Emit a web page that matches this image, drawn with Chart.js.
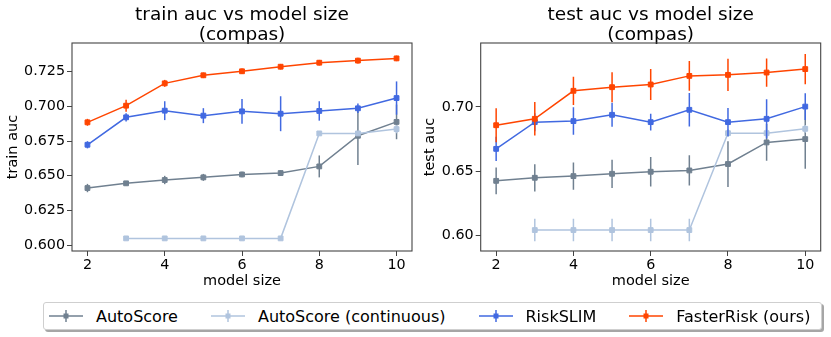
<!DOCTYPE html>
<html>
<head>
<meta charset="utf-8">
<script src="https://cdn.jsdelivr.net/npm/chart.js@4.4.1/dist/chart.umd.min.js"></script>
<style>
  html, body { margin: 0; padding: 0; background: #fff; }
  body { width: 831px; height: 337px; position: relative; overflow: hidden; font-family: 'DejaVu Sans', sans-serif; }
  .box { position: absolute; top: 0; height: 295px; }
  #legend {
    position: absolute; left: 43px; top: 302px; width: 779px; height: 28px;
    border: 1px solid #cfcfcf; border-radius: 3px; background: #fff;
    box-shadow: 2px 2px 0 rgba(0,0,0,0.35);
    display: flex; align-items: center; box-sizing: border-box; padding-left: 5px;
    font-size: 16px; color: #000; white-space: nowrap;
  }
  .item { display: flex; align-items: center; margin-right: 33px; }
  .item canvas { margin-right: 13px; }
</style>
</head>
<body>
<div class="box" style="left:0;width:420px;"><canvas id="c1" width="420" height="295"></canvas></div>
<div class="box" style="left:412px;width:419px;"><canvas id="c2" width="419" height="295"></canvas></div>
<div id="legend"></div>
<script>
// ---------------- data ----------------
const modelSizes = [2, 3, 4, 5, 6, 7, 8, 9, 10];
const seriesNames = ['AutoScore', 'AutoScore (continuous)', 'RiskSLIM', 'FasterRisk (ours)'];
const seriesColors = ['#708090', '#B0C4DE', '#4169E1', '#FF4500'];

// train AUC
const trainAutoScore      = [0.6411, 0.6445, 0.6469, 0.6488, 0.6509, 0.6519, 0.6567, 0.6788, 0.6888];
const trainAutoScoreErr   = [0.0030, 0.0015, 0.0030, 0.0025, 0.0020, 0.0020, 0.0079, 0.0210, 0.0125];
const trainAutoScoreCont    = [null, 0.6048, 0.6048, 0.6048, 0.6048, 0.6048, 0.6805, 0.6805, 0.6836];
const trainAutoScoreContErr = [null, 0.0010, 0.0010, 0.0010, 0.0010, 0.0010, 0.0010, 0.0010, 0.0030];
const trainRiskSLIM       = [0.6723, 0.6921, 0.6969, 0.6933, 0.6964, 0.6947, 0.6967, 0.6986, 0.7060];
const trainRiskSLIMErr    = [0.0026, 0.0030, 0.0068, 0.0054, 0.0090, 0.0126, 0.0070, 0.0034, 0.0120];
const trainFasterRisk     = [0.6885, 0.7005, 0.7166, 0.7224, 0.7253, 0.7286, 0.7315, 0.7330, 0.7346];
const trainFasterRiskErr  = [0.0025, 0.0043, 0.0025, 0.0020, 0.0020, 0.0020, 0.0020, 0.0020, 0.0020];

// test AUC
const testAutoScore      = [0.6424, 0.6448, 0.6461, 0.6479, 0.6495, 0.6505, 0.6555, 0.6723, 0.6749];
const testAutoScoreErr   = [0.0104, 0.0106, 0.0106, 0.0110, 0.0114, 0.0118, 0.0178, 0.0143, 0.0230];
const testAutoScoreCont    = [null, 0.6041, 0.6041, 0.6041, 0.6041, 0.6041, 0.6795, 0.6795, 0.6829];
const testAutoScoreContErr = [null, 0.0088, 0.0088, 0.0088, 0.0088, 0.0088, 0.0030, 0.0030, 0.0030];
const testRiskSLIM       = [0.6673, 0.6881, 0.6889, 0.6938, 0.6881, 0.6977, 0.6881, 0.6907, 0.7002];
const testRiskSLIMErr    = [0.0095, 0.0070, 0.0107, 0.0093, 0.0065, 0.0130, 0.0110, 0.0153, 0.0104];
const testFasterRisk     = [0.6857, 0.6907, 0.7125, 0.7153, 0.7174, 0.7241, 0.7249, 0.7267, 0.7294];
const testFasterRiskErr  = [0.0133, 0.0130, 0.0110, 0.0117, 0.0120, 0.0115, 0.0125, 0.0110, 0.0118];

// ticks
const xTicks = [2, 4, 6, 8, 10];
const trainYTicks = [0.600, 0.625, 0.650, 0.675, 0.700, 0.725];
const testYTicks = [0.60, 0.65, 0.70];

// ---------------- rendering ----------------
Chart.defaults.font.family = "'DejaVu Sans', sans-serif";
Chart.defaults.color = '#000';

const errorBarPlugin = {
  id: 'errorBars',
  beforeDatasetDraw(chart, args) {
    const ds = chart.data.datasets[args.index];
    if (!ds.errors) return;
    const xs = chart.scales.x, ys = chart.scales.y, ctx = chart.ctx, a = chart.chartArea;
    ctx.save();
    ctx.beginPath();
    ctx.rect(a.left, a.top, a.right - a.left, a.bottom - a.top);
    ctx.clip();
    ctx.strokeStyle = ds.borderColor;
    ctx.lineWidth = 1.5;
    ds.data.forEach((p, i) => {
      if (p.y == null || ds.errors[i] == null) return;
      const px = xs.getPixelForValue(p.x);
      ctx.beginPath();
      ctx.moveTo(px, ys.getPixelForValue(p.y - ds.errors[i]));
      ctx.lineTo(px, ys.getPixelForValue(p.y + ds.errors[i]));
      ctx.stroke();
    });
    ctx.restore();
  }
};

const framePlugin = {
  id: 'frame',
  afterDatasetsDraw(chart) {
    const a = chart.chartArea, ctx = chart.ctx;
    ctx.save();
    ctx.strokeStyle = '#444';
    ctx.lineWidth = 1.1;
    ctx.strokeRect(a.left, a.top, a.right - a.left, a.bottom - a.top);
    ctx.restore();
  }
};

function mkDataset(i, vals, errs) {
  return {
    label: seriesNames[i],
    data: modelSizes.map((x, k) => ({ x: x, y: vals[k] })),
    errors: errs,
    borderColor: seriesColors[i],
    backgroundColor: seriesColors[i],
    pointBackgroundColor: seriesColors[i],
    pointBorderColor: seriesColors[i],
    borderWidth: 1.5,
    pointStyle: 'rect',
    pointRadius: 3.4,
    pointBorderWidth: 1,
    order: 3 - i,
    spanGaps: false
  };
}

function makeChart(id, title, yLabel, yMin, yMax, yTicks, decimals, yWidth, yTitlePad, padRight, sets) {
  return new Chart(document.getElementById(id), {
    type: 'line',
    data: { datasets: sets },
    plugins: [errorBarPlugin, framePlugin],
    options: {
      responsive: false,
      animation: false,
      devicePixelRatio: 1,
      layout: { padding: { left: 0, right: padRight, top: 0, bottom: 0 } },
      plugins: {
        legend: { display: false },
        tooltip: { enabled: false },
        title: {
          display: true,
          text: title,
          fullSize: false,
          font: { size: 18.5, weight: 'normal', lineHeight: 1.1 },
          color: '#000',
          padding: { top: 5, bottom: -2.7 }
        }
      },
      scales: {
        x: {
          type: 'linear',
          min: 1.6, max: 10.4,
          afterBuildTicks: s => { s.ticks = xTicks.map(v => ({ value: v })); },
          afterFit: s => { s.height = 44; },
          ticks: { font: { size: 14.3 }, padding: 1, color: '#000', maxRotation: 0 },
          grid: { drawOnChartArea: false, drawTicks: true, tickLength: 5, tickColor: '#444', tickWidth: 1 },
          border: { display: false },
          title: { display: true, text: 'model size', font: { size: 14.5 }, color: '#000', padding: { top: 0, bottom: 5 } }
        },
        y: {
          type: 'linear',
          min: yMin, max: yMax,
          afterBuildTicks: s => { s.ticks = yTicks.map(v => ({ value: v })); },
          afterFit: s => { s.width = yWidth; },
          ticks: { font: { size: 14.3 }, padding: 2, color: '#000', callback: v => Number(v).toFixed(decimals) },
          grid: { drawOnChartArea: false, drawTicks: true, tickLength: 5, tickColor: '#444', tickWidth: 1 },
          border: { display: false },
          title: { display: true, text: yLabel, font: { size: 14.5 }, color: '#000', padding: { top: yTitlePad, bottom: 0 } }
        }
      }
    }
  });
}

makeChart('c1', ['train auc vs model size', '(compas)'], 'train auc', 0.5957, 0.7457, trainYTicks, 3, 72, 5, 8, [
  mkDataset(0, trainAutoScore, trainAutoScoreErr),
  mkDataset(1, trainAutoScoreCont, trainAutoScoreContErr),
  mkDataset(2, trainRiskSLIM, trainRiskSLIMErr),
  mkDataset(3, trainFasterRisk, trainFasterRiskErr)
]);

makeChart('c2', ['test auc vs model size', '(compas)'], 'test auc', 0.5878, 0.7497, testYTicks, 2, 68.7, 10, 10.3, [
  mkDataset(0, testAutoScore, testAutoScoreErr),
  mkDataset(1, testAutoScoreCont, testAutoScoreContErr),
  mkDataset(2, testRiskSLIM, testRiskSLIMErr),
  mkDataset(3, testFasterRisk, testFasterRiskErr)
]);

// legend
const legend = document.getElementById('legend');
seriesNames.forEach((name, i) => {
  const item = document.createElement('div');
  item.className = 'item';
  const cv = document.createElement('canvas');
  cv.width = 34; cv.height = 20;
  const g = cv.getContext('2d');
  g.strokeStyle = seriesColors[i]; g.fillStyle = seriesColors[i]; g.lineWidth = 1.5;
  g.beginPath(); g.moveTo(0, 10); g.lineTo(34, 10); g.stroke();
  g.beginPath(); g.moveTo(17, 4); g.lineTo(17, 16); g.stroke();
  g.fillRect(14.5, 7.5, 5, 5);
  const sp = document.createElement('span');
  sp.textContent = name;
  item.appendChild(cv); item.appendChild(sp);
  legend.appendChild(item);
});
</script>
</body>
</html>
